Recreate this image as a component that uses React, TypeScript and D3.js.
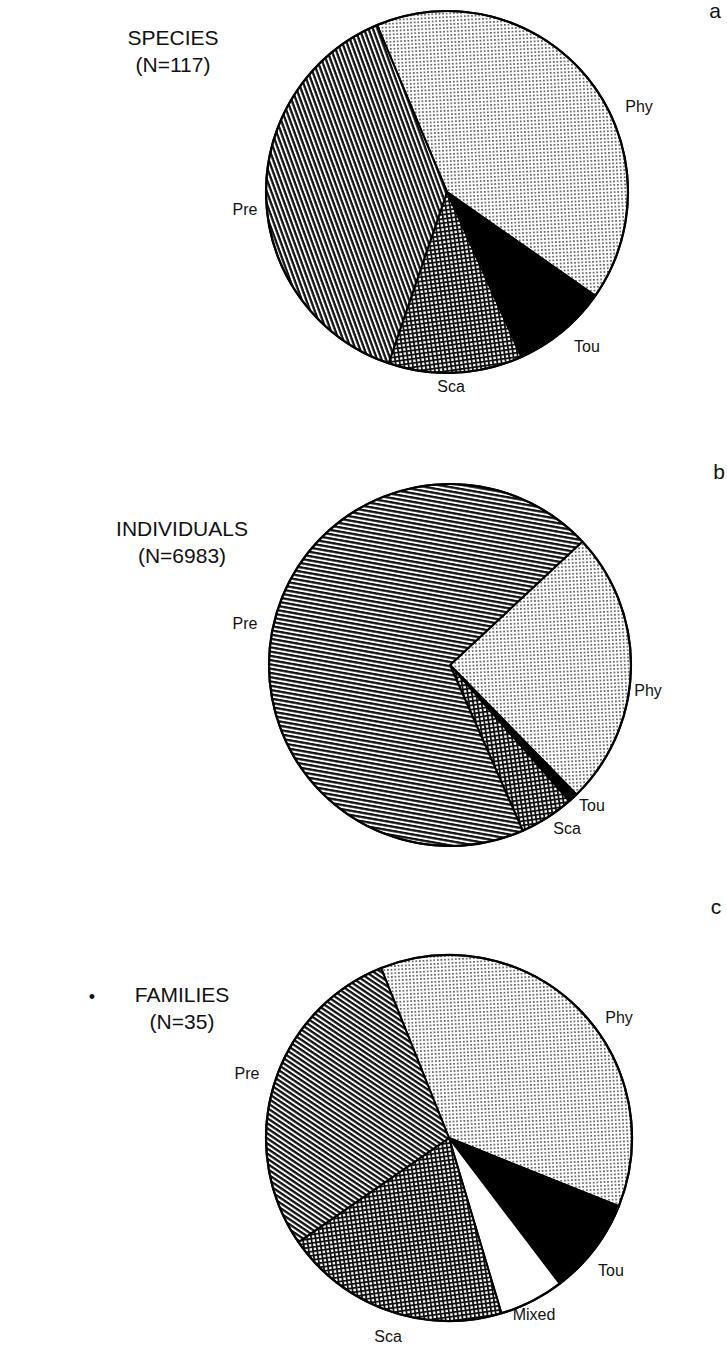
import React from "react";
import * as d3 from "d3";

// Feeding-guild composition of the assemblage, three ways of counting
const speciesGuilds = ["Phy", "Tou", "Sca", "Pre"];
const speciesCounts = [48, 10, 14, 45];

const individualGuilds = ["Phy", "Tou", "Sca", "Pre"];
const individualCounts = [1720, 60, 340, 4863];

const familyGuilds = ["Phy", "Tou", "Mixed", "Sca", "Pre"];
const familyCounts = [13, 3, 2, 7, 10];

const panelTitles = ["SPECIES", "INDIVIDUALS", "FAMILIES"];
const panelTotals = ["(N=117)", "(N=6983)", "(N=35)"];
const panelLetters = ["a", "b", "c"];

const W = 727;
const H = 1350;
const FONT = "'Liberation Sans', Arial, Helvetica, sans-serif";

type Panel = {
  guilds: string[];
  counts: number[];
  cx: number;
  cy: number;
  r: number;
  startDeg: number;
  stripeAngle: number;
  titleX: number;
  titleY: number;
  letterX: number;
  letterY: number;
  labelOffsets: Record<string, [number, number]>;
};

const panels: Panel[] = [
  {
    guilds: speciesGuilds,
    counts: speciesCounts,
    cx: 447, cy: 192, r: 181,
    startDeg: -22.7,
    stripeAngle: 70,
    titleX: 173, titleY: 45,
    letterX: 715, letterY: 18,
    labelOffsets: { Phy: [192, -84], Tou: [140, 156], Sca: [4, 196], Pre: [-202, 19] },
  },
  {
    guilds: individualGuilds,
    counts: individualCounts,
    cx: 450, cy: 665, r: 181,
    startDeg: 47,
    stripeAngle: 10,
    titleX: 182, titleY: 536,
    letterX: 719, letterY: 479,
    labelOffsets: { Pre: [-205, -40], Phy: [198, 27], Tou: [142, 142], Sca: [117, 165] },
  },
  {
    guilds: familyGuilds,
    counts: familyCounts,
    cx: 449, cy: 1138, r: 183,
    startDeg: -21.8,
    stripeAngle: 34,
    titleX: 182, titleY: 1002,
    letterX: 716, letterY: 914,
    labelOffsets: { Pre: [-202, -63], Phy: [170, -119], Tou: [162, 134], Mixed: [85, 178], Sca: [-61, 200] },
  },
];

function fillFor(guild: string, panelIndex: number): string {
  switch (guild) {
    case "Phy":
      return "url(#dots)";
    case "Tou":
      return "#000";
    case "Sca":
      return "url(#grid)";
    case "Pre":
      return `url(#stripes${panelIndex})`;
    default:
      return "#fff";
  }
}

function PiePanel({ panel, index }: { panel: Panel; index: number }) {
  const toRad = Math.PI / 180;
  const pie = d3
    .pie<number>()
    .sort(null)
    .value((d) => d)
    .startAngle(panel.startDeg * toRad)
    .endAngle(panel.startDeg * toRad + 2 * Math.PI);
  const arcs = pie(panel.counts);
  const arc = d3.arc<d3.PieArcDatum<number>>().innerRadius(0).outerRadius(panel.r);

  return (
    <g>
      <g transform={`translate(${panel.cx},${panel.cy})`}>
        {arcs.map((a, i) => (
          <path
            key={panel.guilds[i]}
            d={arc(a) || ""}
            fill={fillFor(panel.guilds[i], index)}
            stroke="#000"
            strokeWidth={2}
            strokeLinejoin="round"
          />
        ))}
        <circle r={panel.r} fill="none" stroke="#000" strokeWidth={2.2} />
        {panel.guilds.map((g) => {
          const [dx, dy] = panel.labelOffsets[g];
          return (
            <text
              key={g}
              x={dx}
              y={dy}
              textAnchor="middle"
              dominantBaseline="middle"
              fontSize={16}
              fontFamily={FONT}
              fill="#111"
            >
              {g}
            </text>
          );
        })}
      </g>
      <text x={panel.titleX} y={panel.titleY} textAnchor="middle" fontSize={21} fontFamily={FONT} fill="#111">
        {panelTitles[index]}
      </text>
      <text x={panel.titleX} y={panel.titleY + 27} textAnchor="middle" fontSize={21} fontFamily={FONT} fill="#111">
        {panelTotals[index]}
      </text>
      <text x={panel.letterX} y={panel.letterY} textAnchor="middle" fontSize={21} fontFamily={FONT} fill="#111">
        {panelLetters[index]}
      </text>
    </g>
  );
}

export default function App() {
  return (
    <svg
      width={W}
      height={H}
      viewBox={`0 0 ${W} ${H}`}
      style={{ position: "absolute", left: 0, top: 0, background: "#fff" }}
    >
      <defs>
        <pattern id="dots" width={3.6} height={3.6} patternUnits="userSpaceOnUse" patternTransform="rotate(-3)">
          <rect width={3.6} height={3.6} fill="#fff" />
          <rect x={1} y={1} width={1.5} height={1.5} fill="#333" />
        </pattern>
        <pattern id="grid" width={4.2} height={4.2} patternUnits="userSpaceOnUse" patternTransform="rotate(-8)">
          <rect width={4.2} height={4.2} fill="#fff" />
          <rect x={0} y={0} width={4.2} height={1.8} fill="#111" />
          <rect x={0} y={0} width={1.8} height={4.2} fill="#111" />
        </pattern>
        {panels.map((p, i) => (
          <pattern
            key={i}
            id={`stripes${i}`}
            width={8}
            height={4.2}
            patternUnits="userSpaceOnUse"
            patternTransform={`rotate(${p.stripeAngle})`}
          >
            <rect width={8} height={4.2} fill="#fff" />
            <rect y={0} width={8} height={2.3} fill="#111" />
          </pattern>
        ))}
      </defs>
      <rect width={W} height={H} fill="#fff" />
      {panels.map((p, i) => (
        <PiePanel key={i} panel={p} index={i} />
      ))}
      <text x={92} y={1003} textAnchor="middle" fontSize={18} fontFamily={FONT} fill="#111">
        •
      </text>
    </svg>
  );
}
